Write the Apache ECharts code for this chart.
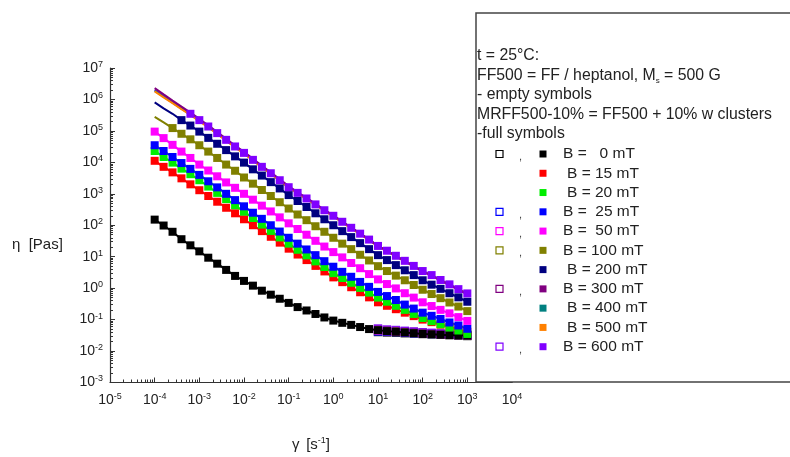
<!DOCTYPE html>
<html>
<head>
<meta charset="utf-8">
<script src="https://cdn.jsdelivr.net/npm/echarts@6/dist/echarts.min.js"></script>
<style>
html,body{margin:0;padding:0;background:#fff;}
#chart{width:790px;height:457px;}
</style>
</head>
<body>
<div id="chart"></div>
<script>
// shear rate (s^-1), 5 points per decade
const gamma = [1e-4, 1.585e-4, 2.512e-4, 3.981e-4, 6.31e-4,
  1e-3, 1.585e-3, 2.512e-3, 3.981e-3, 6.31e-3,
  1e-2, 1.585e-2, 2.512e-2, 3.981e-2, 6.31e-2,
  0.1, 0.1585, 0.2512, 0.3981, 0.631,
  1, 1.585, 2.512, 3.981, 6.31,
  10, 15.85, 25.12, 39.81, 63.1,
  100, 158.5, 251.2, 398.1, 631, 1000];

// viscosity (Pas), MRFF500-10% (full symbols)
const eta0 = [151, 98, 62, 36, 23, 14.8, 9.3, 6.0, 3.8, 2.45, 1.7, 1.2, 0.83, 0.62, 0.46, 0.34, 0.25, 0.195, 0.151, 0.117,
  0.093, 0.079, 0.068, 0.058, 0.050, 0.046, 0.043, 0.041, 0.039, 0.037, 0.035, 0.034, 0.033, 0.032, 0.0316, 0.031];
const eta15 = [1.12e4, 7.2e3, 4.8e3, 3.1e3, 2.0e3, 1.3e3, 850, 560, 360, 240, 155, 100, 65, 43, 28, 18, 11.7, 7.8, 5.1, 3.4,
  2.2, 1.55, 1.07, 0.74, 0.51, 0.355, 0.275, 0.214, 0.166, 0.129, 0.100, 0.083, 0.069, 0.059, 0.049, 0.041];
const eta20 = [2.3e4, 1.48e4, 9.8e3, 6.3e3, 4.2e3, 2.7e3, 1.7e3, 1.07e3, 680, 430, 270, 170, 105, 66, 41, 26, 16.6, 11, 7.1, 4.7,
  3.0, 2.1, 1.48, 1.02, 0.72, 0.50, 0.37, 0.275, 0.204, 0.151, 0.112, 0.089, 0.071, 0.056, 0.045, 0.035];
const eta25 = [3.5e4, 2.3e4, 1.48e4, 9.5e3, 6.2e3, 4.0e3, 2.5e3, 1.6e3, 1.0e3, 630, 400, 250, 160, 100, 63, 40, 26, 17, 11.2, 7.2,
  4.8, 3.3, 2.3, 1.58, 1.1, 0.76, 0.56, 0.42, 0.30, 0.224, 0.166, 0.132, 0.105, 0.081, 0.065, 0.051];
const eta50 = [9.5e4, 5.9e4, 3.6e4, 2.2e4, 1.38e4, 8.5e3, 5.5e3, 3.6e3, 2.3e3, 1.55e3, 1.0e3, 650, 420, 275, 178, 115, 76, 50, 32, 21,
  14, 9.5, 6.3, 4.3, 2.8, 1.9, 1.35, 0.98, 0.69, 0.50, 0.355, 0.27, 0.204, 0.158, 0.12, 0.091];
const eta100 = [2.8e5, 1.86e5, 1.23e5, 8.1e4, 5.4e4, 3.5e4, 2.2e4, 1.38e4, 8.5e3, 5.4e3, 3.3e3, 2.1e3, 1.32e3, 850, 540, 340, 220, 145, 93, 62,
  40, 26, 17.4, 11.5, 7.6, 5.0, 3.5, 2.5, 1.78, 1.26, 0.89, 0.65, 0.48, 0.35, 0.26, 0.186];
const eta200 = [8.1e5, 5.2e5, 3.5e5, 2.2e5, 1.48e5, 9.5e4, 6.0e4, 3.9e4, 2.45e4, 1.55e4, 9.8e3, 6.0e3, 3.8e3, 2.35e3, 1.48e3, 910, 590, 380, 240, 155,
  100, 65, 42, 27, 17.4, 11.2, 7.8, 5.4, 3.7, 2.6, 1.78, 1.29, 0.95, 0.69, 0.51, 0.37];
const eta300 = [2.3e6, 1.45e6, 9.2e5, 5.9e5, 3.8e5, 2.4e5, 1.5e5, 9.2e4, 5.6e4, 3.45e4, 2.15e4, 1.3e4, 7.8e3, 4.8e3, 2.9e3, 1.75e3, 1.12e3, 740, 480, 310,
  205, 132, 85, 55, 35, 22, 15.2, 10.4, 7.2, 5.0, 3.4, 2.5, 1.75, 1.26, 0.89, 0.64];
const eta400 = [1.9e6, 1.22e6, 7.9e5, 5.1e5, 3.3e5, 2.1e5, 1.33e5, 8.2e4, 5.0e4, 3.1e4, 1.95e4, 1.18e4, 7.0e3, 4.4e3, 2.65e3, 1.6e3, 1.05e3, 695, 450, 295,
  196, 126, 81, 53, 34, 21.8, 15.2, 10.5, 7.2, 5.0, 3.45, 2.55, 1.8, 1.3, 0.92, 0.67];
const eta500 = [1.8e6, 1.17e6, 7.6e5, 4.9e5, 3.2e5, 2.05e5, 1.3e5, 8.0e4, 4.9e4, 3.0e4, 1.9e4, 1.15e4, 6.9e3, 4.3e3, 2.6e3, 1.56e3, 1.03e3, 680, 440, 290,
  192, 124, 80, 52, 33.5, 21.5, 15, 10.3, 7.1, 4.9, 3.4, 2.5, 1.76, 1.27, 0.9, 0.66];
const eta600 = [2.0e6, 1.29e6, 8.3e5, 5.4e5, 3.5e5, 2.2e5, 1.38e5, 8.5e4, 5.2e4, 3.2e4, 2.0e4, 1.2e4, 7.2e3, 4.5e3, 2.7e3, 1.62e3, 1.07e3, 710, 460, 300,
  200, 129, 83, 54, 35, 22, 15.5, 10.7, 7.4, 5.1, 3.5, 2.6, 1.82, 1.32, 0.93, 0.68];

// FF500 (empty symbols), shear rates 10..1000 s^-1
const gammaFF = [10, 15.85, 25.12, 39.81, 63.1, 100, 158.5, 251.2, 398.1, 631, 1000];
const ff0 = [0.040, 0.039, 0.038, 0.037, 0.036, 0.035, 0.034, 0.033, 0.032, 0.031, 0.030];
const ff25 = [0.042, 0.041, 0.040, 0.038, 0.037, 0.036, 0.035, 0.034, 0.033, 0.032, 0.031];
const ff50 = [0.045, 0.043, 0.041, 0.040, 0.038, 0.037, 0.036, 0.034, 0.033, 0.032, 0.031];
const ff100 = [0.047, 0.045, 0.043, 0.041, 0.039, 0.038, 0.036, 0.035, 0.034, 0.032, 0.031];
const ff300 = [0.050, 0.047, 0.045, 0.043, 0.041, 0.039, 0.037, 0.036, 0.034, 0.033, 0.032];
const ff600 = [0.052, 0.049, 0.047, 0.044, 0.042, 0.040, 0.038, 0.036, 0.035, 0.033, 0.032];

const legendHeader = ['t = 25°C:', 'FF500 = FF / heptanol, M{sub|s} = 500 G', '- empty symbols',
  'MRFF500-10% = FF500 + 10% w clusters', '-full symbols'];
const legendLabels = ['B =   0 mT', 'B = 15 mT', 'B = 20 mT', 'B =  25 mT', 'B =  50 mT', 'B = 100 mT',
  'B = 200 mT', 'B = 300 mT', 'B = 400 mT', 'B = 500 mT', 'B = 600 mT'];
const colors = ['#000000', '#ff0000', '#00ee00', '#0000ff', '#ff00ff', '#808000',
  '#000080', '#800080', '#008080', '#ff8000', '#8000ff'];
const hasEmpty = [true, false, false, true, true, true, false, true, false, false, true];

const FONT = 'Liberation Sans, Arial, sans-serif';
const chart = echarts.init(document.getElementById('chart'), null, {renderer: 'canvas'});

function fullSeries(name, color, vals, start, showSym) {
  return {
    type: 'line', name: name,
    data: vals.map((v, i) => ({value: [gamma[i], v], symbol: (showSym && i >= start) ? 'rect' : 'none'})),
    symbol: 'rect', symbolSize: 8, showSymbol: true,
    lineStyle: {color: color, width: 2}, itemStyle: {color: color},
    emphasis: {disabled: true}, animation: false
  };
}
function emptySeries(name, color, vals) {
  return {
    type: 'scatter', name: name,
    data: vals.map((v, i) => [gammaFF[i], v]),
    symbol: 'rect', symbolSize: 7,
    itemStyle: {color: 'rgba(255,255,255,0)', borderColor: color, borderWidth: 1.4},
    emphasis: {disabled: true}, animation: false
  };
}

const sup = {
  b: {fontSize: 14, fontFamily: FONT, color: '#222', lineHeight: 16},
  s: {fontSize: 9, fontFamily: FONT, color: '#222', verticalAlign: 'top', lineHeight: 9}
};
function powLabel(v) {
  const e = Math.round(Math.log10(v));
  return '{b|10}{s|' + e + '}';
}

const series = [
  emptySeries('FF 0', colors[0], ff0),
  fullSeries('0 mT', colors[0], eta0, 0, true),
  fullSeries('15 mT', colors[1], eta15, 0, true),
  fullSeries('20 mT', colors[2], eta20, 0, true),
  fullSeries('25 mT', colors[3], eta25, 0, true),
  fullSeries('50 mT', colors[4], eta50, 0, true),
  fullSeries('100 mT', colors[5], eta100, 2, true),
  fullSeries('200 mT', colors[6], eta200, 3, true),
  fullSeries('600 mT', colors[10], eta600, 4, true),
  fullSeries('400 mT', colors[8], eta400, 0, false),
  fullSeries('500 mT', colors[9], eta500, 0, false),
  fullSeries('300 mT', colors[7], eta300, 0, false),
  emptySeries('FF 25', colors[3], ff25),
  emptySeries('FF 50', colors[4], ff50),
  emptySeries('FF 100', colors[5], ff100),
  emptySeries('FF 300', colors[7], ff300),
  emptySeries('FF 600', colors[10], ff600)
];

// legend graphics
const graphics = [];
graphics.push({type: 'rect', shape: {x: 476, y: 13, width: 340, height: 369}, z: 1,
  style: {fill: '#fff', stroke: '#444', lineWidth: 1.5}});
const headerY = [56, 76, 95, 115, 134];
legendHeader.forEach((t, i) => {
  graphics.push({type: 'text', x: 477, y: headerY[i], z: 2,
    style: {text: t, fontSize: 15.8, fontFamily: FONT, fill: '#222', verticalAlign: 'middle', align: 'left',
      rich: {sub: {fontSize: 8, fontFamily: FONT, fill: '#222', verticalAlign: 'bottom', padding: [10, 0, 0, 0]}}}});
});
legendLabels.forEach((t, i) => {
  const cy = 154 + i * 19.27;
  graphics.push({type: 'rect', shape: {x: 539.5, y: cy - 3.5, width: 7, height: 7}, z: 2,
    style: {fill: colors[i]}});
  if (hasEmpty[i]) {
    graphics.push({type: 'rect', shape: {x: 496, y: cy - 3.5, width: 7, height: 7}, z: 2,
      style: {fill: '#fff', stroke: colors[i], lineWidth: 1.2}});
    graphics.push({type: 'text', x: 519, y: cy + 3, z: 2,
      style: {text: ',', fontSize: 11, fontFamily: FONT, fill: '#444', verticalAlign: 'middle'}});
  }
  graphics.push({type: 'text', x: hasEmpty[i] ? 563 : 567, y: cy, z: 2,
    style: {text: t, fontSize: 15.5, fontFamily: FONT, fill: '#222', verticalAlign: 'middle', align: 'left'}});
});
graphics.push({type: 'text', x: 12, y: 245, z: 2,
  style: {text: 'η  [Pas]', fontSize: 15, fontFamily: FONT, fill: '#222', verticalAlign: 'middle'}});

const axisCommon = {
  type: 'log', logBase: 10,
  axisLine: {show: true, lineStyle: {color: '#333', width: 1.2}},
  axisTick: {show: true, inside: true, length: 5, lineStyle: {color: '#333', width: 1}},
  minorTick: {show: true, splitNumber: 9, length: 3, lineStyle: {color: '#333', width: 1}},
  splitLine: {show: false}, minorSplitLine: {show: false}
};

chart.setOption({
  backgroundColor: '#fff',
  animation: false,
  grid: {left: 110, top: 68, right: 278, bottom: 67, containLabel: false},
  xAxis: Object.assign({}, axisCommon, {
    min: 1e-5, max: 1e4, splitNumber: 9, interval: 1,
    axisLabel: {formatter: powLabel, rich: sup, margin: 10, showMinLabel: true, showMaxLabel: true},
    name: '{g|γ}  {b|[s}{s|-1}{b|]}', nameLocation: 'middle', nameGap: 54,
    nameTextStyle: {rich: {
      g: {fontSize: 15, fontFamily: FONT, color: '#222', lineHeight: 16},
      b: {fontSize: 15, fontFamily: FONT, color: '#222', lineHeight: 16},
      s: {fontSize: 9, fontFamily: FONT, color: '#222', verticalAlign: 'top', lineHeight: 9}}}
  }),
  yAxis: Object.assign({}, axisCommon, {
    min: 1e-3, max: 1e7, splitNumber: 10, interval: 1,
    axisLabel: {formatter: powLabel, rich: sup, margin: 7, interval: 0, showMinLabel: true, showMaxLabel: true}
  }),
  series: series,
  graphic: graphics
});
</script>
</body>
</html>
